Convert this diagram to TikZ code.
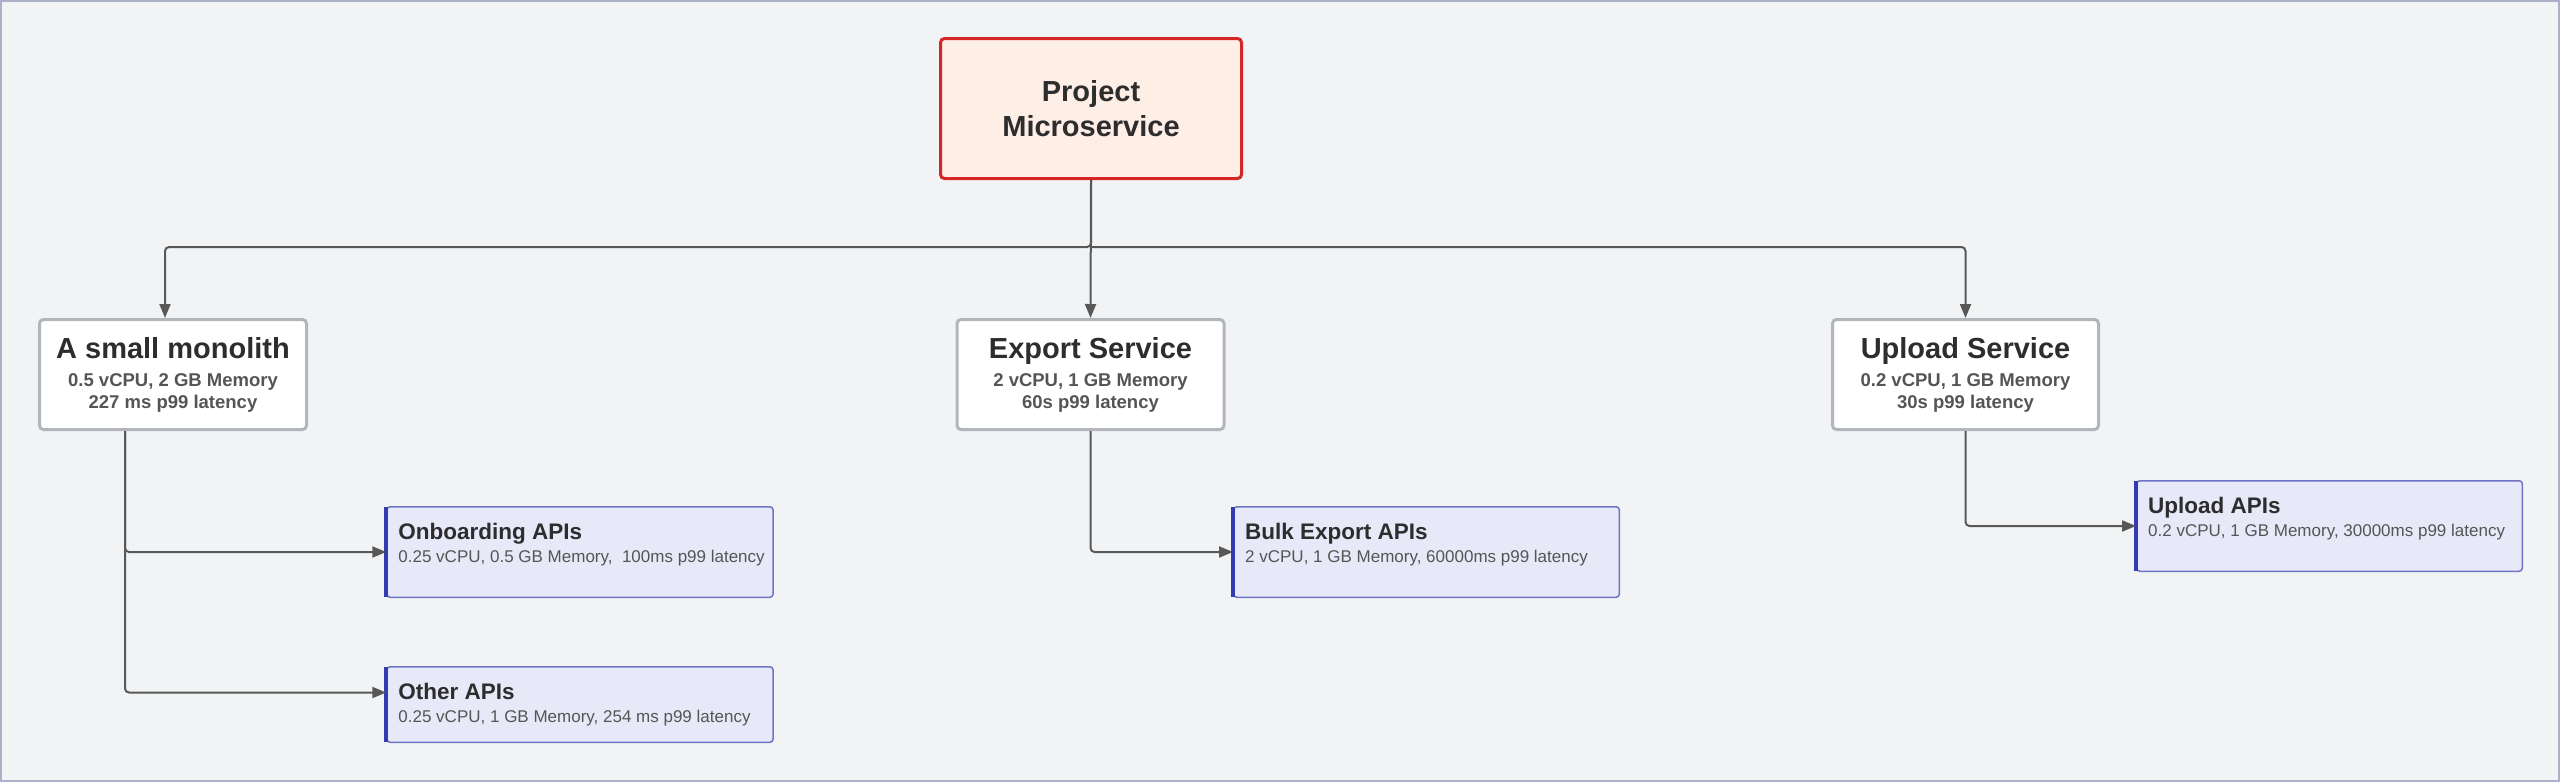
\documentclass[tikz,border=0pt]{standalone}
\usepackage{fontspec}
\setmainfont{Liberation Sans}
\usetikzlibrary{positioning,arrows.meta}
\definecolor{canvasbg}{RGB}{242,243,245}
\definecolor{framegray}{RGB}{172,176,200}
\definecolor{rootfill}{RGB}{253,238,230}
\definecolor{rootred}{RGB}{212,38,38}
\definecolor{svcgray}{RGB}{178,182,186}
\definecolor{apifill}{RGB}{232,233,248}
\definecolor{apiedge}{RGB}{112,116,198}
\definecolor{apiblue}{RGB}{52,58,178}
\definecolor{linkgray}{RGB}{88,88,88}
\definecolor{inkdark}{RGB}{45,45,45}
\definecolor{inkgray}{RGB}{85,85,85}
\newcommand{\svctitle}[1]{{\fontsize{29}{30}\selectfont\color{inkdark}#1}}
\newcommand{\apititle}[1]{{\fontsize{22.5}{23}\selectfont\bfseries\color{inkdark}#1}}
\tikzset{
  rootbox/.style={draw=rootred, fill=rootfill, line width=3pt, rounded corners=4pt,
    minimum width=301pt, minimum height=140pt, inner sep=0pt, align=center,
    text=inkdark, font=\fontsize{29}{35}\selectfont\bfseries},
  svcbox/.style={draw=svcgray, fill=white, line width=3pt, rounded corners=4pt,
    minimum width=267pt, minimum height=110pt, inner sep=0pt, align=center,
    text=inkgray, font=\fontsize{18.5}{22}\selectfont\bfseries},
  apibox/.style={draw=apiedge, fill=apifill, line width=1.5pt, rounded corners=3pt,
    minimum width=386pt, minimum height=90.5pt, inner sep=0pt},
  apitext/.style={anchor=north west, inner sep=0pt, align=left, text=inkgray,
    font=\fontsize{17}{23}\selectfont},
  apibar/.style={draw=apiblue, line width=4pt},
  conn/.style={draw=linkgray, line width=2pt, rounded corners=4pt,
    -{Triangle[length=14pt,width=11pt]}},
}

\begin{document}
\begin{tikzpicture}[x=1pt,y=-1pt]
\fill[canvasbg] (0,0) rectangle (2560,782);
\draw[framegray, line width=2pt] (1,1) rectangle (2559,781);
\useasboundingbox (0,0) rectangle (2560,782);

% root and services
\node[rootbox] (proj) at (1091,108.5) {Project\\Microservice};
\node[svcbox] (mono) at (173,374.5) {\svctitle{A small monolith}\\[6pt]0.5 vCPU, 2 GB Memory\\227 ms p99 latency};
\node[svcbox] (expsvc) at (1090.5,374.5) {\svctitle{Export Service}\\[6pt]2 vCPU, 1 GB Memory\\60s p99 latency};
\node[svcbox, minimum width=266pt] (upsvc) at (1965.5,374.5) {\svctitle{Upload Service}\\[6pt]0.2 vCPU, 1 GB Memory\\30s p99 latency};

% api boxes
\node[apibox] (onb) at (580,552) {};
\node[apibox, minimum height=75.5pt] (oth) at (580,704.5) {};
\node[apibox, minimum width=385.5pt] (bulk) at (1426.5,552) {};
\node[apibox, minimum width=385.5pt] (upapi) at (2329.5,526) {};
\foreach \n in {onb,oth,bulk,upapi}
  \draw[apibar] ([yshift=-1pt]\n.north west) -- ([yshift=1pt]\n.south west);

\node[apitext] (onbtxt) at ([xshift=12pt,yshift=-17pt]onb.north west) {\apititle{Onboarding APIs}\\0.25 vCPU, 0.5 GB Memory,\ \ 100ms p99 latency};
\node[apitext] (othtxt) at ([xshift=12pt,yshift=-17pt]oth.north west) {\apititle{Other APIs}\\0.25 vCPU, 1 GB Memory, 254 ms p99 latency};
\node[apitext] (bulktxt) at ([xshift=12pt,yshift=-17pt]bulk.north west) {\apititle{Bulk Export APIs}\\2 vCPU, 1 GB Memory, 60000ms p99 latency};
\node[apitext] (upapitxt) at ([xshift=12pt,yshift=-17pt]upapi.north west) {\apititle{Upload APIs}\\0.2 vCPU, 1 GB Memory, 30000ms p99 latency};

% connectors
\coordinate (fork) at ([yshift=-67pt]proj.south);
\draw[conn] (proj.south) -- (fork) -| ([xshift=-8pt]mono.north);
\draw[conn] (proj.south) -- (expsvc.north);
\draw[conn] (fork) -| (upsvc.north);
\draw[conn] ([xshift=-48pt]mono.south) |- (onb.west);
\draw[conn] ([xshift=-48pt]mono.south) |- ([yshift=12pt]oth.west);
\draw[conn] (expsvc.south) |- (bulk.west);
\draw[conn] (upsvc.south) |- (upapi.west);
\end{tikzpicture}
\end{document}
